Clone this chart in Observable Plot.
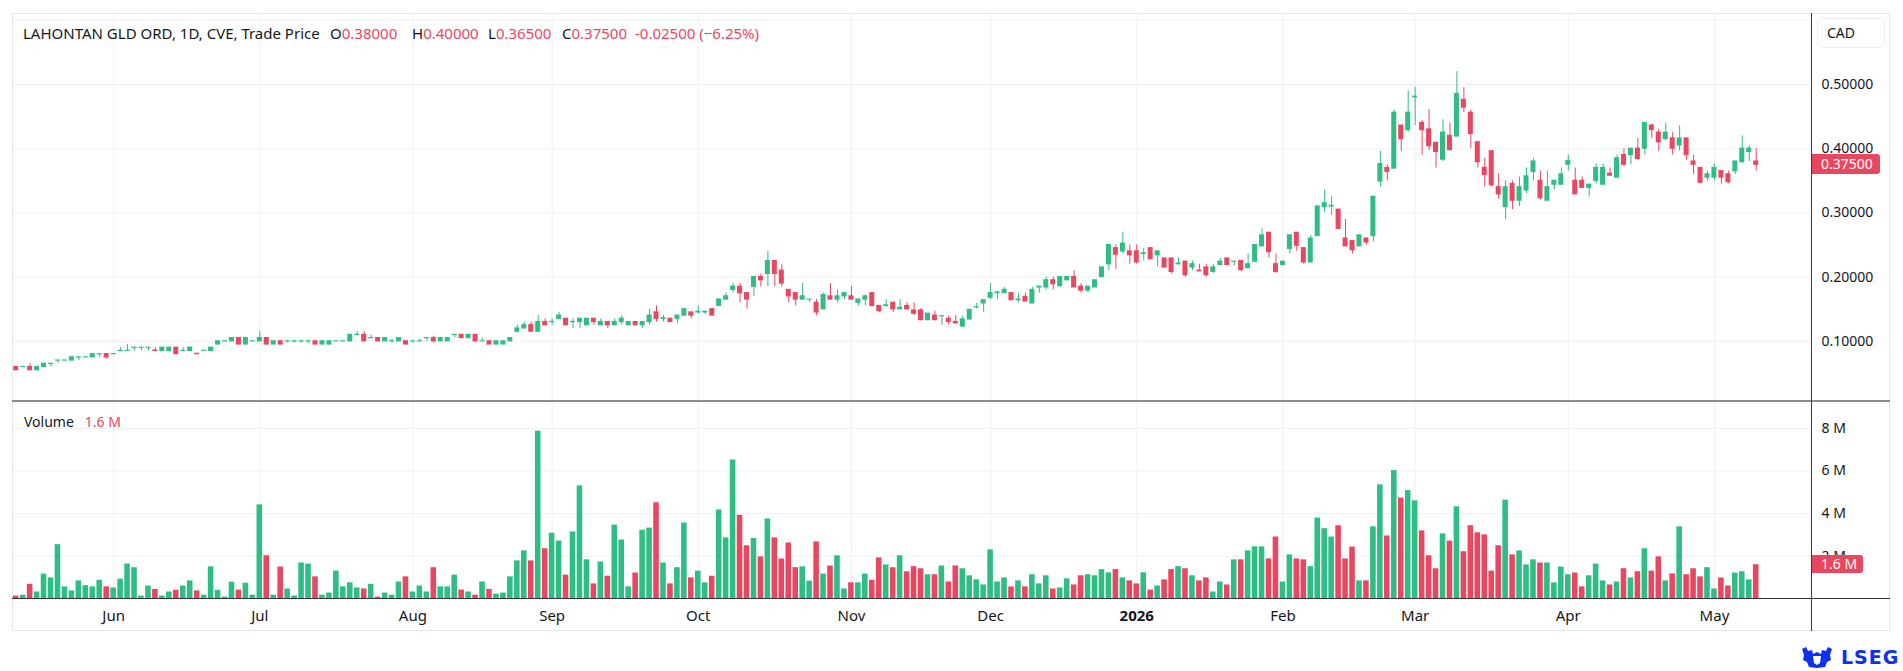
<!DOCTYPE html>
<html><head><meta charset="utf-8">
<script src="https://cdn.jsdelivr.net/npm/d3@7"></script>
<script src="https://cdn.jsdelivr.net/npm/@observablehq/plot@0.6"></script>
<style>
body{margin:0;background:#fff;}
#wrap{position:relative;width:1903px;height:671px;overflow:hidden;font-family:"Noto Sans",sans-serif;color:#131722;background:#fff;}
#wrap svg{position:absolute;left:0;top:0;}
.ln{position:absolute;}
.hd{position:absolute;top:23px;font-size:15px;line-height:20px;white-space:nowrap;}
.red{color:#e8475f;}
.tag{position:absolute;background:#e8475f;color:#fff;font-size:14px;border-radius:0 3px 3px 0;box-sizing:border-box;padding-left:9px;}
</style></head><body><div id="wrap"></div>
<script>
// ---- data (daily bars, CVE: LAHONTAN GLD ORD) ----
const opens=[
.06,.06,.06,.055,.06,.065,.07,.07,.07,.075,
.075,.075,.08,.08,.08,.085,.085,.09,.09,.09,
.0855,.085,.085,.09,.085,.085,.0805,.085,.085,.095,
.10,.10,.105,.095,.10,.10,.105,.095,.10,.10,
.10,.10,.10,.10,.095,.095,.10,.10,.10,.11,
.11,.105,.105,.10,.10,.10,.10,.10,.10,.105,
.105,.10,.10,.11,.11,.105,.11,.10,.10,.095,
.095,.10,.115,.12,.125,.115,.13,.13,.135,.135,
.13,.13,.125,.135,.125,.13,.125,.13,.125,.13,
.125,.13,.145,.135,.135,.135,.14,.145,.145,.145,
.15,.155,.165,.18,.185,.175,.185,.20,.205,.225,
.21,.18,.175,.165,.165,.16,.15,.17,.165,.17,
.17,.16,.165,.175,.155,.155,.16,.15,.155,.148,
.148,.133,.14,.139,.135,.13,.123,.134,.153,.159,
.168,.175,.175,.175,.164,.169,.159,.184,.184,.195,
.186,.195,.20,.185,.179,.184,.20,.22,.245,.24,
.24,.24,.236,.245,.234,.229,.229,.22,.224,.215,
.21,.215,.208,.219,.229,.224,.225,.214,.224,.248,
.269,.22,.219,.244,.269,.245,.223,.264,.309,.31,
.305,.26,.256,.248,.26,.264,.349,.37,.369,.436,
.429,.48,.44,.43,.409,.383,.42,.419,.476,.456,
.41,.37,.396,.34,.309,.345,.319,.335,.364,.35,
.319,.344,.344,.375,.35,.35,.339,.35,.344,.361,
.355,.39,.39,.40,.40,.436,.425,.415,.416,.405,
.416,.38,.37,.355,.355,.365,.36,.365,.379,.395,.38];
const highs=[
.06,.06,.065,.06,.065,.065,.07,.07,.075,.075,
.075,.08,.08,.08,.08,.09,.095,.09,.09,.09,
.09,.09,.09,.09,.09,.09,.0805,.085,.09,.10,
.10,.105,.105,.105,.10,.115,.105,.10,.10,.10,
.10,.10,.10,.10,.10,.10,.10,.10,.11,.115,
.115,.11,.105,.105,.103,.105,.10,.10,.103,.105,
.108,.105,.105,.11,.11,.11,.11,.105,.10,.10,
.10,.105,.125,.13,.13,.14,.135,.135,.145,.135,
.135,.135,.135,.135,.135,.13,.135,.14,.13,.13,
.13,.15,.155,.14,.135,.14,.15,.145,.155,.146,
.15,.165,.175,.19,.19,.175,.20,.205,.24,.225,
.22,.18,.175,.19,.165,.165,.175,.19,.18,.175,
.185,.165,.172,.175,.155,.165,.16,.165,.16,.16,
.151,.143,.147,.139,.14,.14,.14,.149,.159,.164,
.19,.178,.184,.175,.175,.175,.184,.184,.20,.20,
.20,.20,.21,.19,.185,.195,.215,.25,.25,.27,
.25,.25,.245,.245,.24,.229,.229,.23,.224,.225,
.22,.22,.22,.229,.229,.224,.225,.236,.25,.275,
.269,.236,.224,.265,.269,.245,.265,.31,.336,.325,
.305,.29,.256,.265,.26,.325,.396,.375,.46,.436,
.49,.496,.444,.461,.409,.445,.44,.52,.495,.46,
.41,.385,.396,.361,.35,.35,.356,.37,.385,.365,
.365,.35,.37,.39,.37,.356,.344,.376,.376,.37,
.39,.40,.40,.416,.44,.438,.43,.44,.425,.436,
.416,.39,.37,.365,.376,.365,.365,.38,.42,.405,.40];
const lows=[
.055,.06,.055,.055,.06,.06,.065,.07,.07,.07,
.075,.075,.075,.072,.08,.085,.085,.085,.085,.085,
.085,.085,.085,.08,.085,.085,.08,.085,.085,.095,
.10,.0995,.095,.095,.10,.10,.095,.095,.095,.097,
.097,.097,.097,.095,.095,.095,.10,.10,.10,.11,
.10,.105,.10,.10,.097,.10,.095,.097,.10,.10,
.097,.10,.10,.105,.105,.105,.10,.10,.095,.095,
.095,.10,.113,.12,.115,.115,.125,.125,.135,.125,
.12,.12,.125,.125,.125,.12,.125,.125,.125,.125,
.12,.125,.13,.13,.13,.127,.14,.135,.142,.142,
.14,.155,.165,.175,.16,.15,.17,.185,.185,.185,
.185,.16,.155,.165,.16,.14,.15,.165,.16,.165,
.165,.155,.155,.155,.145,.153,.145,.149,.149,.14,
.132,.132,.132,.125,.125,.128,.122,.134,.15,.145,
.165,.165,.175,.164,.16,.162,.159,.175,.18,.18,
.184,.195,.184,.175,.175,.184,.20,.21,.212,.236,
.22,.22,.225,.228,.216,.215,.205,.219,.20,.21,
.209,.20,.206,.219,.219,.217,.208,.214,.224,.248,
.23,.206,.217,.236,.24,.22,.223,.264,.30,.296,
.275,.248,.236,.248,.25,.255,.34,.35,.369,.396,
.426,.436,.39,.397,.37,.38,.396,.419,.456,.40,
.37,.34,.34,.321,.29,.305,.31,.33,.35,.32,
.319,.336,.344,.365,.329,.339,.325,.345,.344,.358,
.355,.372,.375,.382,.39,.416,.396,.413,.39,.396,
.382,.36,.345,.35,.35,.345,.345,.36,.378,.38,.365];
const closes=[
.055,.06,.055,.06,.065,.065,.07,.07,.075,.075,
.075,.08,.08,.075,.08,.085,.085,.09,.09,.09,
.085,.09,.09,.08,.085,.09,.08,.085,.09,.10,
.10,.105,.095,.105,.10,.105,.095,.10,.095,.10,
.10,.10,.10,.095,.10,.10,.10,.10,.11,.11,
.10,.105,.10,.105,.10,.105,.095,.10,.10,.105,
.10,.105,.105,.11,.105,.11,.10,.10,.095,.10,
.10,.105,.12,.125,.115,.13,.125,.13,.14,.125,
.13,.135,.135,.13,.13,.125,.13,.135,.13,.125,
.13,.14,.135,.136,.13,.14,.15,.14,.146,.146,
.14,.165,.17,.185,.175,.165,.20,.195,.225,.205,
.19,.17,.165,.17,.165,.145,.172,.165,.17,.175,
.165,.165,.17,.155,.147,.156,.15,.152,.15,.143,
.133,.143,.133,.139,.13,.128,.134,.149,.153,.164,
.175,.176,.18,.164,.165,.162,.18,.185,.195,.189,
.20,.20,.184,.179,.185,.195,.215,.25,.235,.252,
.234,.223,.237,.228,.24,.215,.208,.221,.203,.22,
.209,.203,.215,.224,.219,.224,.211,.22,.25,.265,
.239,.208,.224,.265,.249,.223,.26,.31,.315,.311,
.275,.248,.242,.265,.254,.325,.376,.364,.456,.415,
.456,.481,.429,.404,.395,.425,.398,.485,.464,.423,
.379,.359,.343,.329,.34,.319,.34,.357,.38,.323,
.34,.35,.36,.381,.329,.339,.344,.37,.37,.358,
.385,.375,.40,.384,.44,.429,.41,.425,.40,.416,
.39,.375,.347,.36,.37,.355,.348,.38,.40,.40,.375];
const volumes=[ // millions of shares
.13,.17,.68,.32,1.16,.98,2.54,.56,.37,.84,
.62,.56,.87,.56,.51,.92,1.63,1.46,.13,.6,
.44,.13,.32,.4,.6,.84,.37,.17,1.5,.4,
.08,.78,.41,.73,.17,4.41,2.02,.17,1.49,.46,
.13,1.68,1.63,1.03,.17,.27,1.3,.56,.75,.51,
.46,.68,.08,.27,.17,.79,1.03,.32,.6,.32,
1.46,.56,.56,1.11,.41,.32,.17,.79,.44,.22,
.27,1.03,1.78,2.25,1.78,7.87,2.35,3.08,2.71,1.11,
3.14,5.3,1.83,.7,1.73,1.06,3.46,2.76,.56,1.21,
3.22,3.32,4.51,1.68,.7,1.46,3.56,.98,1.3,.75,
1.06,4.17,2.86,6.52,3.92,2.49,2.83,1.97,3.75,2.86,
1.87,2.62,1.46,1.5,.83,2.67,1.16,1.54,2.02,.46,
.75,.75,1.16,.87,1.92,1.59,1.46,2.02,1.27,1.51,
1.41,1.13,1.13,1.54,.79,1.54,1.41,1.08,.89,.65,
2.3,.79,.98,.56,.84,.56,1.13,.7,1.08,.46,
.51,.94,.65,1.08,1.13,1.08,1.37,1.22,1.37,.98,
.84,.7,1.22,.41,.6,.89,1.37,1.51,1.41,1.08,
.84,.98,.32,.79,.65,1.83,1.83,2.25,2.44,2.44,
1.87,2.9,.79,2.06,1.87,1.83,1.51,3.79,3.29,2.9,
3.43,1.87,2.43,.84,.84,3.38,5.35,2.95,6.02,4.73,
5.08,4.6,3.19,2.02,1.41,3.05,2.71,4.32,2.21,3.43,
3.1,3.0,1.3,2.49,4.63,2.06,2.25,1.59,1.83,1.68,
1.68,.75,1.49,1.13,1.21,.56,1.08,1.63,.84,.65,
.79,1.41,.98,1.27,2.35,1.3,1.97,.84,1.17,3.38,
1.13,1.41,1.03,1.46,.46,.98,.6,1.21,1.27,.89,1.6];
const monthTicks=[14,35,57,77,98,120,140,161,182,201,223,244];
const monthLabels=["Jun","Jul","Aug","Sep","Oct","Nov","Dec","2026","Feb","Mar","Apr","May"];
const yearTick=161;
const priceTicks=[0.1,0.2,0.3,0.4,0.5];
const priceGrid=[0.1,0.2,0.3,0.4,0.5,0.6];
const volumeTicks=[2,4,6,8];

// ---- build ----
const UP="#2ebd85", DOWN="#e8475f", GRID="#eef0f3", INK="#131722";
const FONT='"Noto Sans", sans-serif';
const bars=opens.map((o,i)=>({i,o,h:highs[i],l:lows[i],c:closes[i],v:volumes[i],col:closes[i]>=o?UP:DOWN}));
const n=bars.length;
const xOpt={domain:[0,n-1],range:[15.7,1755.7]};
const st={background:"transparent",fontFamily:FONT,fontSize:"14px",color:INK,overflow:"visible"};

const pricePlot=Plot.plot({
  width:1903,height:671,marginTop:13,marginRight:92,marginBottom:73,marginLeft:12,
  style:st,
  x:{...xOpt,axis:null},
  y:{domain:[0,0.6],range:[405,19.8]},
  color:{type:"identity"},
  marks:[
    Plot.ruleY(priceGrid,{stroke:GRID}),
    Plot.ruleX(monthTicks,{stroke:GRID}),
    Plot.axisY(priceTicks,{anchor:"right",label:null,tickSize:0,tickPadding:10,tickFormat:d=>d.toFixed(5),fill:INK,fontSize:14}),
    Plot.ruleX(bars,{x:"i",y1:"l",y2:"h",stroke:"col",strokeWidth:1}),
    Plot.rect(bars,{x1:d=>d.i-0.36,x2:d=>d.i+0.36,y1:d=>Math.min(d.o,d.c),y2:d=>Math.max(d.o,d.c),fill:"col",insetTop:-0.6,insetBottom:-0.6})
  ]
});

const volPlot=Plot.plot({
  width:1903,height:671,marginTop:401,marginRight:92,marginBottom:73,marginLeft:12,
  style:st,
  x:{...xOpt},
  y:{domain:[0,8],range:[598.3,427.9]},
  color:{type:"identity"},
  marks:[
    Plot.ruleY(volumeTicks,{stroke:GRID}),
    Plot.axisY(volumeTicks,{anchor:"right",label:null,tickSize:0,tickPadding:10,tickFormat:d=>d+" M",fill:INK,fontSize:14}),
    Plot.rect(bars,{x1:d=>d.i-0.4,x2:d=>d.i+0.4,y1:0,y2:"v",fill:"col"}),
    Plot.axisX(monthTicks.filter(t=>t!==yearTick),{anchor:"bottom",label:null,tickSize:0,tickPadding:12,tickFormat:d=>monthLabels[monthTicks.indexOf(d)],fill:INK,fontSize:15}),
    Plot.axisX([yearTick],{anchor:"bottom",label:null,tickSize:0,tickPadding:12,tickFormat:d=>monthLabels[monthTicks.indexOf(d)],fill:INK,fontSize:15,fontWeight:"bold"})
  ]
});

const wrap=document.getElementById("wrap");
function box(css){const d=document.createElement("div");d.className="ln";Object.assign(d.style,css);wrap.appendChild(d);return d;}
wrap.appendChild(pricePlot);
wrap.appendChild(volPlot);
// frame
box({left:"12px",top:"13px",width:"1878px",height:"618px",border:"1px solid #e3e6ec",boxSizing:"border-box"});
box({left:"12px",top:"400px",width:"1878px",height:"2px",background:"#8c8c8c"});
box({left:"12px",top:"598px",width:"1878px",height:"1px",background:"#333"});
box({left:"1811px",top:"13px",width:"1px",height:"618px",background:"#3a3a3a"});
// CAD
const cad=box({left:"1817px",top:"18px",width:"68px",height:"30px",border:"1px solid #eceef2",borderRadius:"6px",boxSizing:"border-box",fontSize:"14px",lineHeight:"28px",paddingLeft:"9px"});
cad.textContent="CAD";
// header
const last=n-1, f5=d=>d.toFixed(5);
const chg=closes[last]-closes[last-1], pct=chg/closes[last-1]*100;
const hdr=[
 [23,`<span>LAHONTAN GLD ORD, 1D, CVE, Trade Price</span>`],
 [330,`O<span class="red">${f5(opens[last])}</span>`],
 [412,`H<span class="red">${f5(highs[last])}</span>`],
 [488,`L<span class="red">${f5(lows[last])}</span>`],
 [562,`C<span class="red">${f5(closes[last])}</span>`],
 [635,`<span class="red">${chg<0?"-":"+"}${f5(Math.abs(chg))} (${chg<0?"−":"+"}${Math.abs(pct).toFixed(2)}%)</span>`]
];
for(const [x,h] of hdr){const d=document.createElement("div");d.className="hd";d.style.left=x+"px";d.innerHTML=h;wrap.appendChild(d);}
// volume legend
const vl=document.createElement("div");vl.className="hd";vl.style.left="24px";vl.style.top="412px";vl.style.fontSize="14px";
vl.innerHTML=`Volume&nbsp;&nbsp;&nbsp;<span class="red">${volumes[last].toFixed(1)} M</span>`;wrap.appendChild(vl);
// last value tags positioned by the plot scales
const yP=pricePlot.scale("y").apply(closes[last]);
const t1=document.createElement("div");t1.className="tag";Object.assign(t1.style,{left:"1812px",top:(yP-10)+"px",width:"68px",height:"20px",lineHeight:"20px"});
t1.textContent=f5(closes[last]);wrap.appendChild(t1);
const yV=volPlot.scale("y").apply(volumes[last]);
const t2=document.createElement("div");t2.className="tag";Object.assign(t2.style,{left:"1812px",top:(yV-9)+"px",width:"51px",height:"18px",lineHeight:"18px"});
t2.textContent=volumes[last].toFixed(1)+" M";wrap.appendChild(t2);
// LSEG mark
const logo=document.createElement("div");
Object.assign(logo.style,{position:"absolute",left:"1800px",top:"645px",height:"24px",display:"flex",alignItems:"center",gap:"7px",color:"#1030f0",fontWeight:"bold",fontSize:"19px",fontFamily:'"DejaVu Sans", sans-serif',letterSpacing:"1px"});
logo.innerHTML=`<svg width="34" height="22" viewBox="0 0 34 22" style="position:static"><path d="M2 3 L6 1 L8 5 L12 4 L13 8 L17 6 L21 8 L22 4 L26 5 L28 1 L32 3 L30 9 L31 14 L27 16 L25 21 L17 22 L9 21 L7 16 L3 14 L4 9 Z" fill="#1030f0"/><path d="M13 10 L21 10 L20 17 L17 19 L14 17 Z" fill="#fff"/></svg><span>LSEG</span>`;
wrap.appendChild(logo);
</script></body></html>
